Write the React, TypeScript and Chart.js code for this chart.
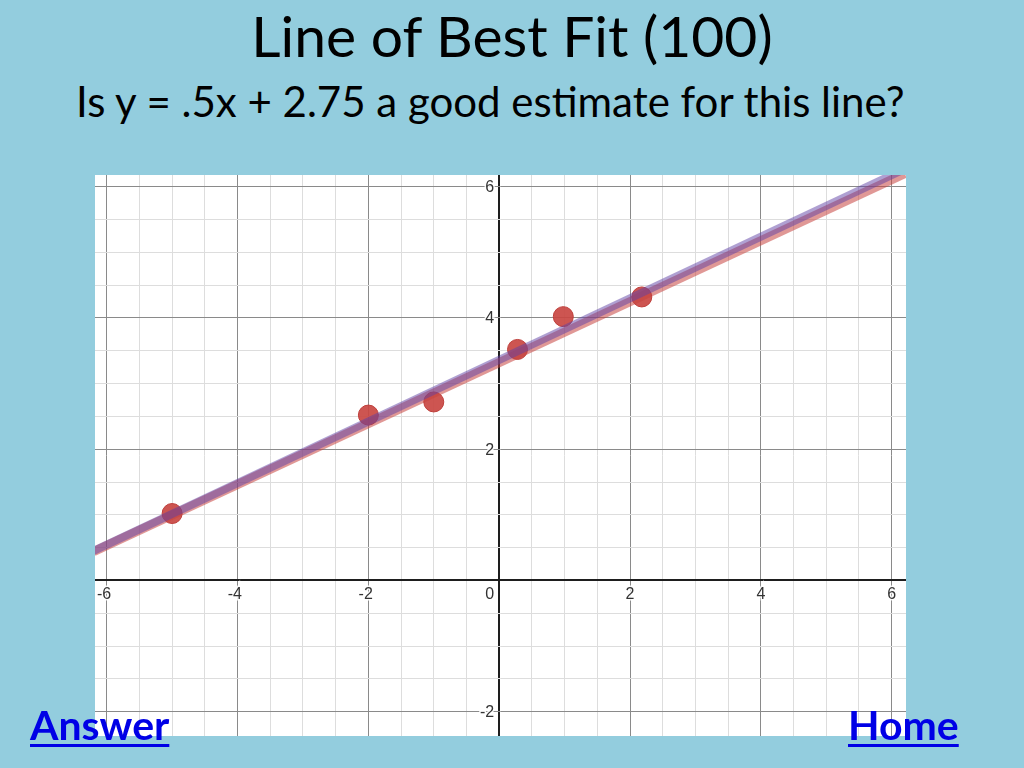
import { useEffect, useRef } from "react";
import { Chart, registerables } from "chart.js";

Chart.register(...registerables);

// ---- data ----
const pointX = [-5, -2, -1, 0.28, 0.98, 2.18];
const pointY = [1.02, 2.52, 2.72, 3.52, 4.02, 4.32];
const lineX = [-6.2, 6.2];
const blueLineY = [0.45, 6.27];
const redLineY = [0.44, 6.2];
const xTickLabels = [-6, -4, -2, 2, 4, 6];
const yTickLabels = [6, 4, 2, -2];
const originLabel = "0";

const titleText = "Line of Best Fit (100)";
const subtitleText = "Is y = .5x + 2.75 a good estimate for this line?";
const answerText = "Answer";
const homeText = "Home";

// ---- axis ranges ----
const X_MIN = -6.179;
const X_MAX = 6.219;
const Y_MIN = -2.37;
const Y_MAX = 6.178;
const GRID_STEP = 0.5;

function gridValues(lo: number, hi: number, step: number) {
  const out: number[] = [];
  for (let v = Math.ceil(lo / step) * step; v <= hi + 1e-9; v += step) {
    out.push(Math.round(v * 100) / 100);
  }
  return out;
}

function gridColor(v: number) {
  if (Math.abs(v) < 1e-9) return "#1e1e1e";
  if (Math.abs(v % 2) < 1e-9) return "#8a8a8a";
  return "#dddddd";
}

function gridWidth(v: number) {
  return Math.abs(v) < 1e-9 ? 2 : 1;
}

const labelPlugin = {
  id: "axisLabels",
  beforeDatasetsDraw(chart: any) {
    const { ctx, scales } = chart;
    const xs = scales.x;
    const ys = scales.y;
    const x0 = xs.getPixelForValue(0);
    const y0 = ys.getPixelForValue(0);
    ctx.save();
    ctx.font = '16px "Liberation Sans", Arial, sans-serif';
    ctx.fillStyle = "#333333";
    ctx.strokeStyle = "rgba(255,255,255,0.9)";
    ctx.lineWidth = 3;
    ctx.textBaseline = "middle";
    const draw = (t: string, px: number, py: number) => {
      ctx.strokeText(t, px, py);
      ctx.fillText(t, px, py);
    };
    ctx.textAlign = "left";
    for (const v of xTickLabels) {
      const px = xs.getPixelForValue(v);
      const digits = String(Math.abs(v));
      const w = ctx.measureText(digits).width;
      const mw = v < 0 ? ctx.measureText("-").width : 0;
      draw((v < 0 ? "-" : "") + digits, px - w / 2 - mw, y0 + 14);
    }
    ctx.textAlign = "right";
    for (const v of yTickLabels) {
      draw(String(v), x0 - 5, ys.getPixelForValue(v) + 1);
    }
    draw(originLabel, x0 - 5, y0 + 14);
    ctx.restore();
  },
};

function Graph() {
  const ref = useRef<HTMLCanvasElement | null>(null);
  useEffect(() => {
    if (!ref.current) return;
    const xGrid = gridValues(X_MIN, X_MAX, GRID_STEP);
    const yGrid = gridValues(Y_MIN, Y_MAX, GRID_STEP);
    const chart = new Chart(ref.current, {
      type: "scatter",
      data: {
        datasets: [
          {
            type: "line",
            label: "fit (blue)",
            data: lineX.map((x, i) => ({ x, y: blueLineY[i] })),
            borderColor: "rgba(96,66,166,0.5)",
            borderWidth: 8,
            pointRadius: 0,
            fill: false,
            order: 1,
          },
          {
            type: "line",
            label: "fit (red)",
            data: lineX.map((x, i) => ({ x, y: redLineY[i] })),
            borderColor: "rgba(199,68,64,0.55)",
            borderWidth: 9,
            pointRadius: 0,
            fill: false,
            order: 2,
          },
          {
            label: "points",
            data: pointX.map((x, i) => ({ x, y: pointY[i] })),
            backgroundColor: "rgba(201,70,66,0.92)",
            borderColor: "rgba(190,62,58,1)",
            borderWidth: 1,
            pointRadius: 10,
            order: 3,
          },
        ],
      },
      options: {
        animation: false,
        responsive: false,
        layout: { padding: 0, autoPadding: false },
        plugins: {
          legend: { display: false },
          tooltip: { enabled: false },
        },
        scales: {
          x: {
            type: "linear",
            min: X_MIN,
            max: X_MAX,
            afterBuildTicks: (s: any) => {
              s.ticks = xGrid.map((v) => ({ value: v }));
            },
            ticks: { display: false },
            grid: {
              drawTicks: false,
              color: (c: any) => gridColor(c.tick.value),
              lineWidth: (c: any) => gridWidth(c.tick.value),
            },
            border: { display: false },
          },
          y: {
            type: "linear",
            min: Y_MIN,
            max: Y_MAX,
            afterBuildTicks: (s: any) => {
              s.ticks = yGrid.map((v) => ({ value: v }));
            },
            ticks: { display: false },
            grid: {
              drawTicks: false,
              color: (c: any) => gridColor(c.tick.value),
              lineWidth: (c: any) => gridWidth(c.tick.value),
            },
            border: { display: false },
          },
        },
      },
      plugins: [labelPlugin],
    } as any);
    return () => chart.destroy();
  }, []);
  return (
    <canvas
      ref={ref}
      width={811}
      height={561}
      style={{ position: "absolute", left: 95, top: 175, width: 811, height: 561, background: "#ffffff" }}
    />
  );
}

export default function App() {
  const font = 'Lato, "Open Sans", sans-serif';
  const linkStyle: any = {
    position: "absolute",
    fontFamily: font,
    fontWeight: 700,
    fontSize: 41,
    lineHeight: "41px",
    color: "#0000e6",
    textDecoration: "underline",
    textDecorationThickness: 3,
    textUnderlineOffset: 4,
  };
  return (
    <div
      style={{
        position: "fixed",
        left: 0,
        top: 0,
        width: 1024,
        height: 768,
        background: "#93cdde",
        overflow: "hidden",
      }}
    >
      <div
        style={{
          position: "absolute",
          left: 0,
          top: 7,
          width: 1024,
          textAlign: "center",
          fontFamily: font,
          fontSize: 57,
          lineHeight: "57px",
          color: "#000",
        }}
      >
        {titleText}
      </div>
      <div
        style={{
          position: "absolute",
          left: 76,
          top: 80,
          fontFamily: font,
          fontSize: 42,
          lineHeight: "42px",
          color: "#000",
          whiteSpace: "nowrap",
        }}
      >
        {subtitleText}
      </div>
      <Graph />
      <div style={{ ...linkStyle, left: 30, top: 704 }}>{answerText}</div>
      <div style={{ ...linkStyle, left: 848, top: 704 }}>{homeText}</div>
    </div>
  );
}
